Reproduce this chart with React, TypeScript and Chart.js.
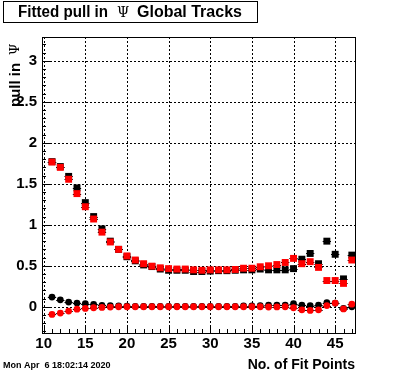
import { useEffect, useRef } from "react";
import { Chart, registerables } from "chart.js";

Chart.register(...registerables);

// ---- data ----
const fitPoints = [11, 12, 13, 14, 15, 16, 17, 18, 19, 20, 21, 22, 23, 24, 25, 26, 27, 28, 29, 30, 31, 32, 33, 34, 35, 36, 37, 38, 39, 40, 41, 42, 43, 44, 45, 46, 47];

const blackSquares = [1.77, 1.71, 1.59, 1.45, 1.27, 1.10, 0.95, 0.80, 0.70, 0.61, 0.56, 0.51, 0.49, 0.46, 0.445, 0.445, 0.445, 0.43, 0.43, 0.435, 0.44, 0.44, 0.445, 0.45, 0.45, 0.46, 0.45, 0.45, 0.45, 0.465, 0.58, 0.65, 0.525, 0.80, 0.64, 0.34, 0.63];

const redSquares = [1.765, 1.70, 1.555, 1.38, 1.22, 1.07, 0.91, 0.79, 0.70, 0.62, 0.57, 0.525, 0.495, 0.475, 0.465, 0.46, 0.46, 0.45, 0.445, 0.45, 0.45, 0.45, 0.455, 0.47, 0.47, 0.488, 0.50, 0.515, 0.54, 0.59, 0.525, 0.55, 0.48, 0.32, 0.32, 0.285, 0.57];

const blackCircles = [0.118, 0.085, 0.057, 0.045, 0.037, 0.028, 0.018, 0.013, 0.012, 0.008, 0.005, 0.005, 0.005, 0.005, 0.005, 0.005, 0.005, 0.005, 0.005, 0.005, 0.005, 0.005, 0.005, 0.01, 0.01, 0.015, 0.02, 0.02, 0.02, 0.037, 0.02, 0.013, 0.02, 0.05, 0.045, -0.02, 0.0];

const redCircles = [-0.094, -0.077, -0.053, -0.03, -0.02, -0.012, -0.008, -0.004, 0, 0, 0, 0, 0, 0, 0, 0, 0, 0, 0, 0, 0, 0, 0, 0, 0, 0, -0.003, -0.002, 0, -0.012, -0.037, -0.045, -0.037, 0.014, 0.045, -0.026, 0.032];

const xTickValues = [10, 15, 20, 25, 30, 35, 40, 45];
const yTickValues = [0, 0.5, 1, 1.5, 2, 2.5, 3];
const yTickLabels = ["0", "0.5", "1", "1.5", "2", "2.5", "3"];

const titleLeft = "Fitted pull in";
const titlePsi = "\u03A8";
const titleRight = "Global Tracks";
const yTitle = "pull in";
const xTitle = "No. of Fit Points";
const dateStamp = "Mon Apr  6 18:02:14 2020";

const FONT = "'Liberation Sans', Arial, Helvetica, sans-serif";
const SERIF = "'DejaVu Serif', 'Liberation Serif', serif";

const toXY = (ys: number[]) => fitPoints.map((x, i) => ({ x, y: ys[i] }));

const rootPlugin = {
  id: "rootStyle",
  beforeDraw(chart: any) {
    const ctx = chart.ctx;
    ctx.save();
    ctx.fillStyle = "#fff";
    ctx.fillRect(0, 0, chart.width, chart.height);
    ctx.restore();
  },
  beforeDatasetsDraw(chart: any) {
    const { ctx, chartArea, scales } = chart;
    const { left, right, top, bottom } = chartArea;
    ctx.save();
    ctx.strokeStyle = "#000";
    ctx.lineWidth = 1;
    ctx.setLineDash([2, 2]);
    ctx.beginPath();
    for (const v of xTickValues) {
      const px = Math.round(scales.x.getPixelForValue(v)) + 0.5;
      if (px <= left + 1 || px >= right - 1) continue;
      ctx.moveTo(px, top);
      ctx.lineTo(px, bottom);
    }
    for (const v of yTickValues) {
      const py = Math.round(scales.y.getPixelForValue(v)) + 0.5;
      if (py <= top + 1 || py >= bottom - 1) continue;
      ctx.moveTo(left, py);
      ctx.lineTo(right, py);
    }
    ctx.stroke();
    ctx.restore();
  },
  beforeDatasetDraw(chart: any, args: any) {
    const { ctx, chartArea, scales } = chart;
    const ds = chart.data.datasets[args.index];
    ctx.save();
    ctx.beginPath();
    ctx.rect(chartArea.left, chartArea.top, chartArea.right - chartArea.left, chartArea.bottom - chartArea.top);
    ctx.clip();
    ctx.strokeStyle = "#000";
    ctx.lineWidth = 1;
    ctx.beginPath();
    for (const p of ds.data) {
      const py = Math.round(scales.y.getPixelForValue(p.y)) + 0.5;
      ctx.moveTo(scales.x.getPixelForValue(p.x - 0.5), py);
      ctx.lineTo(scales.x.getPixelForValue(p.x + 0.5), py);
    }
    ctx.stroke();
    ctx.restore();
  },
  afterDraw(chart: any) {
    const { ctx, chartArea, scales } = chart;
    const { left, right, top, bottom } = chartArea;
    ctx.save();
    // frame
    ctx.strokeStyle = "#000";
    ctx.lineWidth = 1;
    ctx.strokeRect(Math.round(left) + 0.5, Math.round(top) + 0.5, Math.round(right - left) - 1, Math.round(bottom - top));
    // ticks
    ctx.beginPath();
    const yMin = scales.y.min, yMax = scales.y.max;
    for (let k = Math.ceil(yMin * 10); k <= Math.floor(yMax * 10); k++) {
      const v = k / 10;
      const py = Math.round(scales.y.getPixelForValue(v)) + 0.5;
      const major = k % 5 === 0;
      ctx.moveTo(left, py);
      ctx.lineTo(left + (major ? 8 : 4), py);
    }
    const xMin = scales.x.min, xMax = scales.x.max;
    for (let v = Math.ceil(xMin); v <= Math.floor(xMax); v++) {
      const px = Math.round(scales.x.getPixelForValue(v)) + 0.5;
      const major = v % 5 === 0;
      ctx.moveTo(px, bottom);
      ctx.lineTo(px, bottom - (major ? 8 : 4));
    }
    ctx.stroke();

    // title box
    ctx.fillStyle = "#fff";
    ctx.fillRect(3, 1, 254, 21);
    ctx.strokeRect(3.5, 1.5, 254, 21);
    ctx.fillStyle = "#000";
    ctx.textBaseline = "alphabetic";
    ctx.textAlign = "left";
    ctx.font = `bold 16px ${FONT}`;
    ctx.fillText(titleLeft, 18, 17, 90);
    ctx.fillText(titleRight, 137, 17, 113);
    ctx.font = `14px ${SERIF}`;
    ctx.fillText(titlePsi, 117, 17);

    // y title
    ctx.save();
    ctx.translate(20, 107);
    ctx.rotate(-Math.PI / 2);
    ctx.font = `bold 15px ${FONT}`;
    ctx.fillText(yTitle, 0, 0);
    ctx.font = `13px ${SERIF}`;
    ctx.fillText(titlePsi, 52, -1);
    ctx.restore();

    // x title
    ctx.font = `bold 14px ${FONT}`;
    ctx.textAlign = "right";
    ctx.fillText(xTitle, 355, 369);

    // date
    ctx.font = `bold 9px ${FONT}`;
    ctx.textAlign = "left";
    ctx.fillText(dateStamp, 3, 368);
    ctx.restore();
  },
};

export default function App() {
  const ref = useRef<HTMLCanvasElement | null>(null);
  useEffect(() => {
    if (!ref.current) return;
    const tickFont = { family: FONT, size: 15, weight: "bold" as const };
    const chart = new Chart(ref.current, {
      type: "scatter",
      data: {
        datasets: [
          { label: "red squares", data: toXY(redSquares), pointStyle: "rect", pointRadius: 4.9, pointHoverRadius: 4.9, backgroundColor: "#ff0000", borderWidth: 0 },
          { label: "black squares", data: toXY(blackSquares), pointStyle: "rect", pointRadius: 4.9, pointHoverRadius: 4.9, backgroundColor: "#000000", borderWidth: 0 },
          { label: "red circles", data: toXY(redCircles), pointStyle: "circle", pointRadius: 3.4, pointHoverRadius: 3.4, backgroundColor: "#ff0000", borderWidth: 0 },
          { label: "black circles", data: toXY(blackCircles), pointStyle: "circle", pointRadius: 3.4, pointHoverRadius: 3.4, backgroundColor: "#000000", borderWidth: 0 },
        ],
      },
      options: {
        animation: false,
        responsive: false,
        events: [],
        layout: { padding: { top: 37, right: 40, left: 0, bottom: 0 } },
        plugins: { legend: { display: false }, tooltip: { enabled: false }, title: { display: false } },
        scales: {
          x: {
            type: "linear",
            min: 9.8,
            max: 47.5,
            grid: { display: false, drawTicks: false },
            border: { display: false },
            ticks: { font: tickFont, color: "#000", padding: 2, maxRotation: 0, autoSkip: false, callback: (v: any) => String(v) },
            afterBuildTicks: (scale: any) => { scale.ticks = xTickValues.map((v) => ({ value: v })); },
            afterFit: (scale: any) => { scale.height = 39; },
          },
          y: {
            type: "linear",
            min: -0.32,
            max: 3.29,
            grid: { display: false, drawTicks: false },
            border: { display: false },
            ticks: {
              font: tickFont,
              color: "#000",
              padding: 5,
              autoSkip: false,
              callback: (v: any) => {
                const i = yTickValues.indexOf(Number(v));
                return i >= 0 ? yTickLabels[i] : String(v);
              },
            },
            afterBuildTicks: (scale: any) => { scale.ticks = yTickValues.map((v) => ({ value: v })); },
            afterFit: (scale: any) => { scale.width = 42; },
          },
        },
      },
      plugins: [rootPlugin],
    });
    return () => chart.destroy();
  }, []);
  return (
    <div style={{ position: "fixed", left: 0, top: 0, width: 396, height: 372, background: "#fff" }}>
      <canvas ref={ref} width={396} height={372} style={{ display: "block", width: 396, height: 372 }} />
    </div>
  );
}
